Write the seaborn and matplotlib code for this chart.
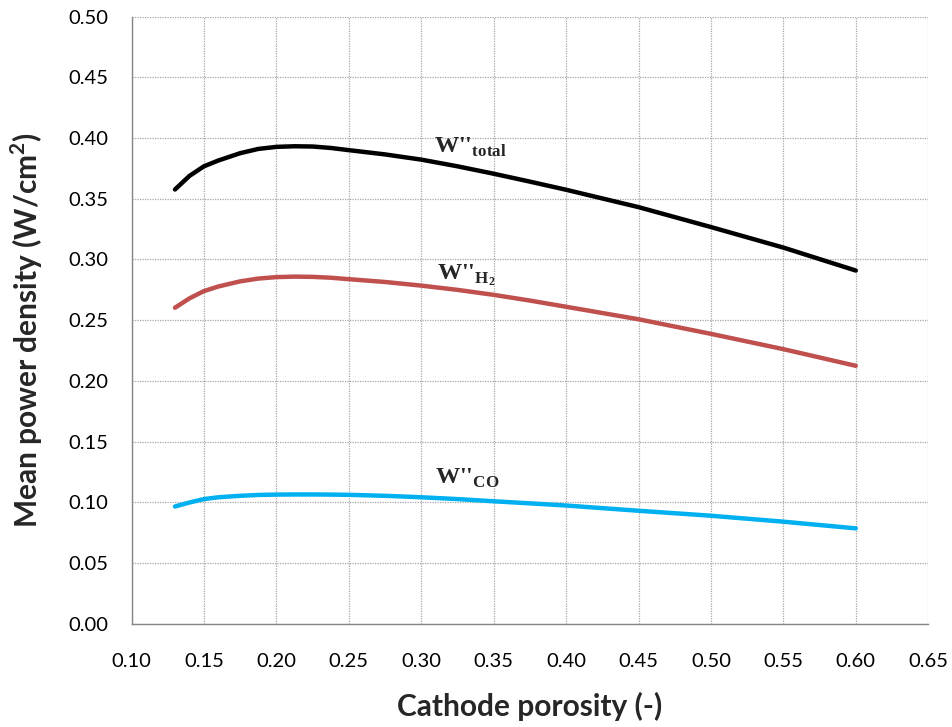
import matplotlib
matplotlib.use("Agg")
import matplotlib.pyplot as plt
import seaborn as sns
import pandas as pd

# Cathode porosity sample points
porosity = [0.13, 0.14, 0.15, 0.16, 0.175, 0.1875, 0.20, 0.2125, 0.225, 0.2375, 0.25,
            0.275, 0.30, 0.325, 0.35, 0.375, 0.40, 0.45, 0.50, 0.55, 0.60]

# Mean power density (W/cm2)
w_total = [0.3576, 0.3688, 0.3767, 0.3815, 0.3875, 0.3910, 0.3927, 0.3932, 0.3930, 0.3918, 0.3900,
           0.3865, 0.3822, 0.3767, 0.3706, 0.3641, 0.3574, 0.3431, 0.3267, 0.3098, 0.2909]
w_h2 = [0.2603, 0.2680, 0.2740, 0.2778, 0.2820, 0.2843, 0.2855, 0.2859, 0.2857, 0.2850, 0.2838,
        0.2815, 0.2785, 0.2750, 0.2709, 0.2662, 0.2611, 0.2508, 0.2388, 0.2262, 0.2125]
w_co = [0.0967, 0.1000, 0.1028, 0.1043, 0.1055, 0.1062, 0.1065, 0.1066, 0.1066, 0.1065, 0.1063,
        0.1055, 0.1043, 0.1028, 0.1010, 0.0993, 0.0975, 0.0932, 0.0891, 0.0842, 0.0787]

x_ticks = [0.10, 0.15, 0.20, 0.25, 0.30, 0.35, 0.40, 0.45, 0.50, 0.55, 0.60, 0.65]
y_ticks = [0.00, 0.05, 0.10, 0.15, 0.20, 0.25, 0.30, 0.35, 0.40, 0.45, 0.50]

series_names = ["total", "H2", "CO"]
series_colors = {"total": "#000000", "H2": "#C0504D", "CO": "#00B0F0"}

df = pd.concat([
    pd.DataFrame({"porosity": porosity, "power": w_total, "series": "total"}),
    pd.DataFrame({"porosity": porosity, "power": w_h2, "series": "H2"}),
    pd.DataFrame({"porosity": porosity, "power": w_co, "series": "CO"}),
])

sns.set_theme(style="white")
plt.rcParams["font.family"] = ["Lato", "DejaVu Sans"]
plt.rcParams["mathtext.fontset"] = "custom"
plt.rcParams["mathtext.bf"] = "Liberation Serif:bold"
plt.rcParams["mathtext.rm"] = "Liberation Serif:bold"
plt.rcParams["mathtext.sf"] = "Lato:bold"

fig = plt.figure(figsize=(9.53, 7.27), dpi=100)
ax = fig.add_axes([0.138, 0.1417, 0.836, 0.8356])

sns.lineplot(data=df, x="porosity", y="power", hue="series", hue_order=series_names,
             palette=series_colors, linewidth=3.2, legend=False, ax=ax,
             solid_capstyle="round", solid_joinstyle="round", sort=False)

ax.set_xlim(0.10, 0.65)
ax.set_ylim(0.0, 0.50)
ax.set_xticks(x_ticks)
ax.set_yticks(y_ticks)
ax.set_xticklabels([f"{v:.2f}" for v in x_ticks], fontsize=14.5, color="#000000")
ax.set_yticklabels([f"{v:.2f}" for v in y_ticks], fontsize=14.5, color="#000000")

ax.grid(True, color="#A6A6A6", linestyle=(0, (1, 1)), linewidth=0.9)
ax.set_axisbelow(True)
for side in ["top", "right"]:
    ax.spines[side].set_visible(False)
for side in ["left", "bottom"]:
    ax.spines[side].set_color("#868686")
    ax.spines[side].set_linewidth(1.0)
ax.tick_params(axis="both", which="major", direction="out", length=8, width=1.0,
               color="#868686", pad=9)
ax.tick_params(axis="x", pad=13)

ax.set_xlabel("Cathode porosity (-)", fontsize=21.5, fontweight="bold", labelpad=16)
ax.set_ylabel(r"Mean power density (W/cm$^{\mathsf{2}}$)", fontsize=21.5,
              fontweight="bold")
ax.yaxis.set_label_coords(-0.108, 0.484)

label_kw = dict(fontsize=17.5, fontweight="bold", family="Liberation Serif",
                va="baseline", ha="left")
ax.text(0.309, 0.388, r"W''$_{\mathbf{total}}$", **label_kw)
ax.text(0.311, 0.2837, r"W''$_{\mathbf{H_2}}$", **label_kw)
ax.text(0.3096, 0.1151, r"W''$_{\mathbf{CO}}$", **label_kw)

fig.savefig("out.png", dpi=100)
